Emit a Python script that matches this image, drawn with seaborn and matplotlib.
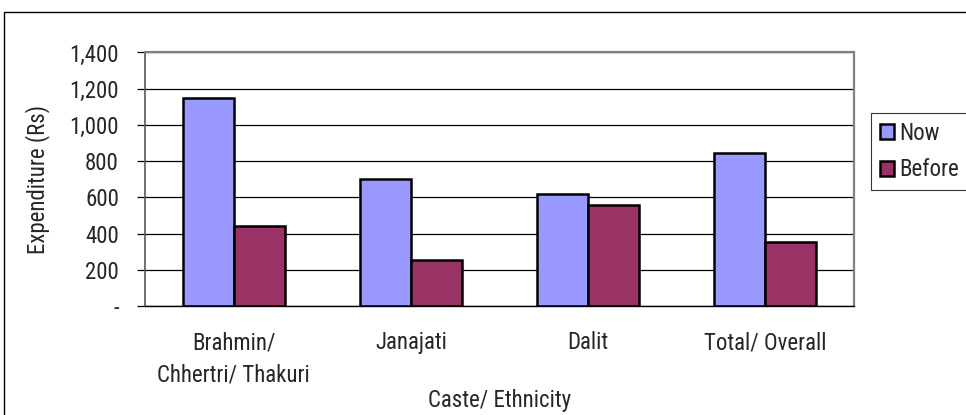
import matplotlib
matplotlib.use("Agg")
import matplotlib.pyplot as plt
from matplotlib.patches import Rectangle, Patch
import seaborn as sns
import pandas as pd

categories = ["Brahmin/\nChhertri/ Thakuri", "Janajati", "Dalit", "Total/ Overall"]
series_names = ["Now", "Before"]
now_values = [1150, 700, 620, 845]
before_values = [440, 255, 560, 355]
y_ticks = [0, 200, 400, 600, 800, 1000, 1200, 1400]
y_tick_labels = ["-", "200", "400", "600", "800", "1,000", "1,200", "1,400"]
colors = {"Now": "#9999FF", "Before": "#993366"}

df = pd.DataFrame({
    "category": categories * 2,
    "series": [series_names[0]] * len(categories) + [series_names[1]] * len(categories),
    "value": now_values + before_values,
})

sns.set_theme(style="white")
plt.rcParams["font.family"] = ["Roboto Condensed", "Liberation Sans", "DejaVu Sans"]
FS = 16.5

W, H = 966, 415
fig = plt.figure(figsize=(W / 100, H / 100), dpi=100)
fig.patch.set_facecolor("white")

x0, x1, y0, y1 = 145, 854, 306, 52.5
ax = fig.add_axes([x0 / W, 1 - y0 / H, (x1 - x0) / W, (y0 - y1) / H])

sns.barplot(data=df, x="category", y="value", hue="series", order=categories,
            hue_order=series_names, palette=colors, width=0.575, gap=0,
            edgecolor="black", linewidth=1.8, saturation=1, ax=ax, legend=False)

ax.set_ylim(0, 1400)
ax.set_xlim(-0.5, len(categories) - 0.5)
ax.set_yticks(y_ticks)
ax.set_yticklabels(y_tick_labels)
ax.yaxis.grid(True, color="black", linewidth=0.9)
ax.set_axisbelow(True)

# category boundaries carry the tick marks, centres carry the labels
ax.set_xticks(range(len(categories)))
ax.set_xticklabels(categories, linespacing=1.5)
ax.set_xticks([i - 0.5 for i in range(len(categories) + 1)], minor=True)
ax.tick_params(axis="x", which="major", length=0, pad=18, labelsize=FS)
ax.tick_params(axis="x", which="minor", length=5.8, width=0.9, direction="out", color="black")
ax.tick_params(axis="y", length=5.8, width=0.9, direction="out", color="black", pad=13, labelsize=FS, left=True)

for side in ("top", "right"):
    ax.spines[side].set_color("#808080")
    ax.spines[side].set_linewidth(1.6)
ax.spines["left"].set_color("#555555")
ax.spines["left"].set_linewidth(1.2)
ax.spines["bottom"].set_color("black")
ax.spines["bottom"].set_linewidth(1.0)

ax.set_xlabel("Caste/ Ethnicity", fontsize=FS, labelpad=2)
ax.set_ylabel("Expenditure (Rs)", fontsize=FS, labelpad=14)

handles = [Patch(facecolor=colors[s], edgecolor="black", linewidth=1.8, label=s) for s in series_names]
leg = fig.legend(handles=handles, loc="upper left", bbox_to_anchor=(871 / W, 1 - 113 / H),
                 frameon=True, fancybox=False, fontsize=FS, handlelength=0.62,
                 handleheight=0.62, handletextpad=0.25, borderpad=0.38, labelspacing=0.6,
                 borderaxespad=0)
leg.get_frame().set_edgecolor("black")
leg.get_frame().set_linewidth(0.8)

# chart frame around the whole figure area
fig.patches.append(Rectangle((4 / W, -0.1), 1.2, 1.1 - 12 / H, transform=fig.transFigure,
                             fill=False, edgecolor="black", linewidth=1.0))

fig.savefig("out.png", dpi=100)
